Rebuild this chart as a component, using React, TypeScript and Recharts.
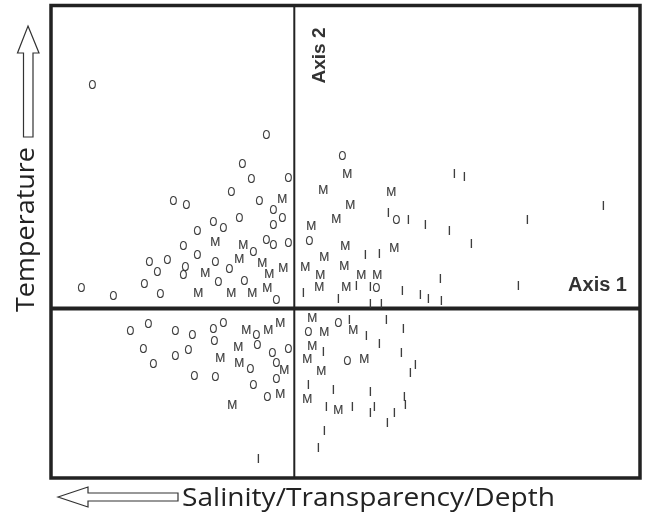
import React from 'react';
import { ScatterChart, Scatter, XAxis, YAxis, ReferenceLine, ReferenceArea } from 'recharts';

// Ordination scores (Axis 1, Axis 2)
const oScores: [number, number][] = [
  [-2.02, 2.24], [-0.28, 1.74], [-0.52, 1.45], [-0.43, 1.30], [-0.06, 1.31], [-0.63, 1.17],
  [-1.21, 1.08], [-1.08, 1.04], [-0.35, 1.08], [-0.21, 0.99], [-0.12, 0.91], [-0.55, 0.91],
  [-0.81, 0.87], [-0.71, 0.81], [-0.21, 0.84], [-0.97, 0.78], [-0.28, 0.69], [-0.21, 0.64],
  [-0.06, 0.66], [-1.11, 0.63], [-0.41, 0.57], [-0.97, 0.54], [-1.45, 0.47], [-1.27, 0.49],
  [-0.79, 0.47], [-1.09, 0.42], [-1.11, 0.34], [-1.37, 0.37], [-0.65, 0.40], [-1.50, 0.25],
  [-0.50, 0.28], [-0.76, 0.27], [-2.13, 0.21], [-1.81, 0.13], [-1.34, 0.15], [-0.18, 0.09],
  [0.48, 1.53], [1.02, 0.89], [0.15, 0.68], [0.82, 0.21],
  [-1.64, -0.22], [-1.46, -0.15], [-1.19, -0.22], [-1.02, -0.26], [-0.81, -0.20], [-0.71, -0.14],
  [-0.38, -0.26], [-1.51, -0.40], [-1.19, -0.47], [-1.06, -0.41], [-0.80, -0.32], [-0.37, -0.36],
  [-0.22, -0.44], [-0.06, -0.40], [-1.41, -0.55], [-0.44, -0.60], [-0.18, -0.54], [-1.00, -0.67],
  [-0.79, -0.68], [-0.41, -0.76], [-0.18, -0.70], [-0.27, -0.88],
  [0.44, -0.14], [0.14, -0.23], [0.53, -0.52],
];

const mScores: [number, number][] = [
  [-0.12, 1.10], [-0.79, 0.67], [-0.51, 0.64], [-0.55, 0.50], [-0.32, 0.46], [-0.11, 0.41],
  [-0.89, 0.36], [-0.25, 0.35], [-0.27, 0.21], [-0.96, 0.16], [-0.63, 0.16], [-0.42, 0.16],
  [0.53, 1.35], [0.29, 1.19], [0.97, 1.17], [0.56, 1.04], [0.42, 0.90], [0.17, 0.83],
  [0.51, 0.63], [1.00, 0.61], [0.30, 0.52], [0.11, 0.42], [0.50, 0.43], [0.26, 0.34],
  [0.67, 0.34], [0.83, 0.34], [0.25, 0.22], [0.52, 0.22],
  [-0.48, -0.21], [-0.26, -0.21], [-0.14, -0.14], [-0.56, -0.38], [-0.74, -0.49], [-0.55, -0.54],
  [-0.10, -0.61], [-0.14, -0.85], [-0.62, -0.96],
  [0.18, -0.09], [0.59, -0.21], [0.30, -0.23], [0.18, -0.37], [0.13, -0.50], [0.70, -0.50],
  [0.27, -0.62], [0.13, -0.90], [0.44, -1.01],
];

const iScores: [number, number][] = [
  [1.60, 1.35], [1.70, 1.32], [0.94, 0.96], [1.14, 0.89], [1.31, 0.84], [1.55, 0.78],
  [2.33, 0.89], [3.09, 1.03], [1.77, 0.65], [0.71, 0.54], [0.85, 0.55], [1.46, 0.30],
  [2.24, 0.23], [0.09, 0.16], [0.62, 0.23], [0.76, 0.22], [1.08, 0.18], [1.26, 0.14],
  [1.34, 0.10], [1.47, 0.08], [0.44, 0.10], [0.76, 0.05], [0.87, 0.05],
  [0.55, -0.11], [0.92, -0.11], [1.09, -0.20], [0.72, -0.27], [0.85, -0.35], [0.29, -0.43],
  [1.07, -0.44], [1.21, -0.56], [1.16, -0.64], [0.14, -0.76], [0.39, -0.81], [0.76, -0.83],
  [1.10, -0.88], [1.11, -0.96], [0.32, -0.98], [0.58, -0.98], [0.76, -1.04], [0.80, -0.98],
  [1.00, -1.04], [0.93, -1.14], [0.30, -1.22], [0.24, -1.39], [-0.36, -1.50],
];

const groupLabels = ['O', 'M', 'I'];
const axisTitles = ['Axis 1', 'Axis 2'];
const gradientTitles = ['Temperature', 'Salinity/Transparency/Depth'];

const X_DOMAIN: [number, number] = [-2.433, 3.457];
const Y_DOMAIN: [number, number] = [-1.695, 3.03];

const toPoints = (arr: [number, number][]) => arr.map(([x, y]) => ({ x, y }));

const letterShape = (letter: string) => (props: any) => {
  const { cx, cy } = props;
  const extra: any = letter === 'O' ? { textLength: 7.8, lengthAdjust: 'spacingAndGlyphs' } : {};
  return (
    <text
      x={cx}
      y={cy + 4.3}
      textAnchor="middle"
      fontFamily="'Liberation Sans', Arial, sans-serif"
      fontSize={12}
      fill="#3c3c3c"
      stroke="#3c3c3c"
      strokeWidth={0.15}
      {...extra}
    >
      {letter}
    </text>
  );
};

export default function App() {
  return (
    <div
      style={{
        position: 'absolute',
        left: 0,
        top: 0,
        width: 645,
        height: 516,
        background: '#fff',
        transform: 'translateZ(0)',
        willChange: 'transform',
      }}
    >
      <ScatterChart width={645} height={516} margin={{ top: 5.5, right: 5, bottom: 38, left: 51 }}>
        <XAxis type="number" dataKey="x" domain={X_DOMAIN} hide allowDataOverflow />
        <YAxis type="number" dataKey="y" domain={Y_DOMAIN} hide allowDataOverflow />
        <Scatter data={toPoints(oScores)} shape={letterShape(groupLabels[0])} isAnimationActive={false} />
        <Scatter data={toPoints(mScores)} shape={letterShape(groupLabels[1])} isAnimationActive={false} />
        <Scatter data={toPoints(iScores)} shape={letterShape(groupLabels[2])} isAnimationActive={false} />
        <ReferenceLine x={0} stroke="#222" strokeWidth={2} ifOverflow="visible" />
        <ReferenceLine y={0} stroke="#222" strokeWidth={4} ifOverflow="visible" />
        <ReferenceArea
          x1={X_DOMAIN[0]}
          x2={X_DOMAIN[1]}
          y1={Y_DOMAIN[0]}
          y2={Y_DOMAIN[1]}
          fill="none"
          fillOpacity={0}
          stroke="#222"
          strokeWidth={3.5}
          ifOverflow="visible"
        />
      </ScatterChart>
      <svg
        width={645}
        height={516}
        style={{ position: 'absolute', left: 0, top: 0, pointerEvents: 'none' }}
      >
        <text
          x={627}
          y={290.5}
          textAnchor="end"
          fontFamily="'Liberation Sans', Arial, sans-serif"
          fontWeight="bold"
          fontSize={20}
          fill="#333"
        >
          {axisTitles[0]}
        </text>
        <text
          transform="translate(325,55.5) rotate(-90)"
          textAnchor="middle"
          fontFamily="'Liberation Sans', Arial, sans-serif"
          fontWeight="bold"
          fontSize={19}
          fill="#333"
        >
          {axisTitles[1]}
        </text>
        <polygon
          points="28,26 39,53 33,53 33,137 23.5,137 23.5,53 17.5,53"
          fill="#fff"
          stroke="#333"
          strokeWidth={1.2}
        />
        <text
          transform="translate(33.5,229.5) rotate(-90)"
          textAnchor="middle"
          fontFamily="'Open Sans', sans-serif"
          fontSize={25}
          fill="#222"
          textLength={165}
          lengthAdjust="spacingAndGlyphs"
        >
          {gradientTitles[0]}
        </text>
        <polygon
          points="58,497 88,487 88,493 178,493 178,501 88,501 88,507"
          fill="#fff"
          stroke="#333"
          strokeWidth={1.2}
        />
        <text
          x={182}
          y={506}
          fontFamily="'Open Sans', sans-serif"
          fontSize={26}
          fill="#222"
          textLength={373}
          lengthAdjust="spacingAndGlyphs"
        >
          {gradientTitles[1]}
        </text>
      </svg>
    </div>
  );
}
